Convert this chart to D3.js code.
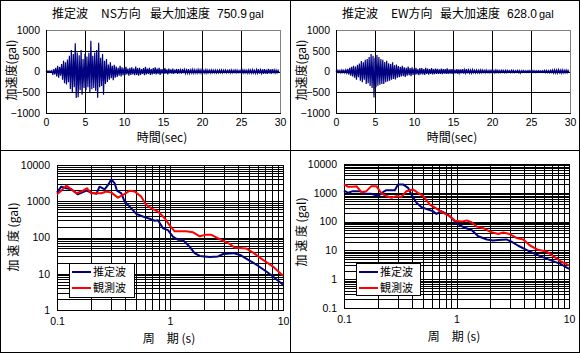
<!DOCTYPE html>
<html lang="ja">
<head>
<meta charset="UTF-8">
<title>推定波 加速度波形と応答スペクトル</title>
<script src="https://cdn.jsdelivr.net/npm/d3@7"></script>
<style>
  body { margin: 0; background: #fff; }
  svg { display: block; }
  text { font-family: "Liberation Sans", "Noto Sans CJK JP", sans-serif; fill: #000; }
  .jp { font-family: "Noto Sans CJK JP", sans-serif; }
  .tick text { font-size: 10.5px; font-family: "Liberation Sans", sans-serif; }
  .grid line { stroke: #000; stroke-width: 1; }
</style>
</head>
<body>
<svg id="chart" width="580" height="353"></svg>
<script>
// ---- waveforms: positive / negative peaks every 0.25 s (gal), 0..30 s ----
const NS_POS = [
  10, 15, 12, 20,   60, 90, 140, 110,   180, 260, 220, 290,   380, 520, 420, 680,
  460, 390, 520, 300,   420, 360, 450, 740,   380, 460, 520, 690,   330, 420, 260, 300,
  170, 220, 140, 160,   120, 90, 140, 100,   80, 110, 70, 90,   100, 70, 120, 80,
  90, 60, 80, 110,   70, 90, 60, 80,   100, 70, 90, 60,   60, 80, 50, 70,
  50, 70, 45, 60,   55, 40, 60, 45,   40, 55, 35, 50,   45, 35, 50, 40,
  40, 30, 45, 35,   35, 40, 30, 35,   30, 35, 40, 30,   35, 30, 30, 40,
  30, 35, 30, 25,   30, 40, 35, 30,   40, 35, 45, 30,   45, 55, 40, 50,
  60, 45, 65, 50,   55, 40, 35, 30
]
const NS_NEG = [
  -10, -12, -15, -80,   -70, -120, -150, -100,   -200, -280, -310, -260,   -420, -500, -380, -640,
  -620, -450, -560, -400,   -450, -380, -520, -430,   -400, -470, -630, -380,   -350, -560, -300, -250,
  -200, -160, -210, -150,   -130, -100, -120, -90,   -90, -70, -100, -80,   -70, -90, -80, -100,
  -80, -60, -90, -70,   -60, -80, -70, -60,   -70, -60, -80, -50,   -60, -50, -70, -45,
  -50, -60, -40, -55,   -45, -50, -40, -45,   -40, -45, -35, -40,   -35, -40, -30, -40,
  -30, -35, -40, -30,   -35, -30, -30, -35,   -30, -30, -35, -25,   -30, -25, -35, -30,
  -25, -30, -30, -25,   -30, -35, -30, -40,   -35, -40, -35, -45,   -40, -50, -45, -55,
  -50, -60, -45, -55,   -45, -35, -30, -25
]
const EW_POS = [
  20, 30, 25, 35,   30, 40, 60, 90,   110, 140, 120, 160,   190, 250, 220, 280,
  300, 350, 420, 380,   330, 400, 350, 300,   280, 230, 260, 200,   180, 220, 150, 170,
  130, 110, 140, 100,   90, 120, 80, 100,   70, 90, 60, 80,   80, 60, 90, 70,
  60, 80, 55, 70,   65, 50, 70, 55,   60, 75, 50, 60,   55, 45, 60, 50,
  50, 60, 45, 55,   40, 35, 45, 30,   35, 30, 40, 35,   30, 35, 25, 30,
  30, 25, 35, 30,   25, 30, 25, 30,   25, 20, 30, 25,   20, 25, 25, 20,
  25, 20, 20, 25,   20, 25, 20, 20,   20, 15, 20, 25,   25, 20, 30, 35,
  40, 35, 45, 35,   40, 30, 35, 30
]
const EW_NEG = [
  -20, -25, -30, -25,   -30, -35, -70, -100,   -120, -150, -200, -140,   -220, -260, -200, -300,
  -280, -350, -400, -628,   -380, -340, -320, -300,   -300, -260, -240, -220,   -200, -180, -190, -150,
  -140, -120, -110, -130,   -100, -90, -110, -80,   -80, -70, -90, -70,   -70, -80, -60, -75,
  -60, -70, -65, -55,   -60, -55, -65, -50,   -55, -60, -50, -55,   -50, -45, -55, -40,
  -45, -50, -40, -45,   -35, -40, -30, -35,   -30, -35, -30, -25,   -30, -25, -30, -25,
  -25, -30, -25, -30,   -25, -20, -30, -25,   -20, -25, -20, -25,   -20, -25, -40, -20,
  -20, -25, -20, -20,   -20, -20, -25, -20,   -15, -20, -20, -25,   -25, -30, -25, -35,
  -35, -40, -30, -40,   -35, -30, -30, -25
]
const WAVE_STEP = 0.25
const WAVE_X_TICKS = [0, 5, 10, 15, 20, 25, 30]
const WAVE_Y_TICKS = [-1000, -500, 0, 500, 1000]

// ---- response spectra: [period (s), acceleration (gal)] ----
const NS_EST = [
  [0.1, 1730], [0.109, 2520], [0.121, 2280], [0.134, 2140], [0.153, 1550], [0.182, 1960],
  [0.201, 1730], [0.223, 1600], [0.238, 2520], [0.264, 2140], [0.283, 2820], [0.303, 4030],
  [0.324, 3130], [0.339, 1960], [0.371, 1660], [0.397, 980], [0.44, 710], [0.503, 450],
  [0.576, 380], [0.66, 330], [0.731, 290], [0.783, 300], [0.866, 180], [0.96, 160],
  [1.06, 106], [1.18, 86], [1.3, 85], [1.49, 56], [1.65, 37], [1.83, 31], [2.25, 29],
  [2.66, 30], [2.96, 35], [3.62, 37], [4.17, 33], [4.89, 24.5], [5.82, 17.7], [7.12, 11.5],
  [8.1, 8.5], [10, 5.0]
]
const NS_OBS = [
  [0.1, 1550], [0.109, 1960], [0.121, 2700], [0.134, 2140], [0.148, 1660], [0.164, 1850],
  [0.184, 2280], [0.201, 1660], [0.223, 1660], [0.247, 1660], [0.273, 1850], [0.303, 1730],
  [0.346, 1260], [0.384, 1490], [0.44, 1960], [0.486, 1850], [0.557, 1340], [0.616, 790],
  [0.683, 640], [0.783, 520], [0.898, 340], [0.99, 220], [1.1, 148], [1.39, 148],
  [1.59, 140], [1.83, 108], [2.09, 120], [2.3, 120], [2.75, 90], [3.37, 67], [3.71, 53],
  [4.71, 50], [5.4, 39], [6.6, 24.6], [8.1, 16], [10, 8.8]
]
const EW_EST = [
  [0.1, 1200], [0.109, 1000], [0.12, 1140], [0.138, 1140], [0.153, 950], [0.175, 920],
  [0.201, 770], [0.222, 1050], [0.238, 1230], [0.283, 1230], [0.302, 1950], [0.335, 1950],
  [0.371, 1490], [0.397, 870], [0.441, 450], [0.49, 315], [0.56, 260], [0.62, 230],
  [0.664, 185], [0.73, 230], [0.84, 175], [0.933, 117], [1.04, 80], [1.19, 61], [1.37, 50],
  [1.56, 31], [1.86, 24], [2.11, 22], [2.35, 23], [2.78, 24], [3.08, 20], [3.54, 14.5],
  [4.18, 10.5], [4.97, 7.6], [5.9, 5.7], [7.0, 4.4], [8.4, 3.4], [10, 2.3]
]
const EW_OBS = [
  [0.1, 1950], [0.109, 1620], [0.12, 1620], [0.129, 1700], [0.143, 1050], [0.158, 1140],
  [0.175, 1700], [0.194, 1700], [0.215, 950], [0.238, 770], [0.264, 670], [0.292, 770],
  [0.324, 720], [0.359, 1140], [0.41, 1310], [0.455, 1000], [0.506, 770], [0.58, 390],
  [0.664, 280], [0.76, 200], [0.87, 155], [0.97, 108], [1.11, 100], [1.23, 110],
  [1.36, 95], [1.51, 67], [1.73, 59], [1.98, 45], [2.35, 37], [2.6, 42], [2.97, 37],
  [3.41, 27], [3.92, 24], [4.5, 14.8], [5.3, 10.5], [6.3, 9.2], [7.3, 6.2], [8.4, 4.2],
  [10, 3.0]
]
const SPEC_X_TICKS = [0.1, 1, 10]
const LEGEND = ['推定波', '観測波']
const TITLE_NS = ['推定波', 'NS方向', '最大加速度', '750.9', 'gal']
const TITLE_EW = ['推定波', 'EW方向', '最大加速度', '628.0', 'gal']

const NAVY = '#000080'
const RED = '#ff0000'

const svg = d3.select('#chart')

// frame and dividers
svg.append('rect')
  .attr('x', 0.5).attr('y', 0.5).attr('width', 579).attr('height', 352)
  .attr('fill', '#fff').attr('stroke', '#000')
svg.append('line').attr('x1', 290.5).attr('x2', 290.5).attr('y1', 0).attr('y2', 353).attr('stroke', '#000')
svg.append('line').attr('x1', 0).attr('x2', 580).attr('y1', 150.5).attr('y2', 150.5).attr('stroke', '#000')

function wavePoints(pos, neg) {
  const pts = []
  pos.forEach((p, i) => {
    pts.push([i * WAVE_STEP, p])
    pts.push([i * WAVE_STEP + WAVE_STEP / 2, neg[i]])
  })
  return pts
}

function drawWave(ox, title, pos, neg) {
  const left = ox + 46, right = ox + 280, top = 30, bottom = 113
  const x = d3.scaleLinear().domain([0, 30]).range([left, right])
  const y = d3.scaleLinear().domain([-1000, 1000]).range([bottom, top])

  // grid
  const grid = svg.append('g').attr('class', 'grid')
  grid.selectAll('.v').data(WAVE_X_TICKS.slice(1, -1)).enter().append('line')
    .attr('x1', d => Math.round(x(d)) + 0.5).attr('x2', d => Math.round(x(d)) + 0.5)
    .attr('y1', top).attr('y2', bottom)
  grid.selectAll('.h').data(WAVE_Y_TICKS.slice(1, -1)).enter().append('line')
    .attr('x1', left).attr('x2', right)
    .attr('y1', d => Math.round(y(d)) + 0.5).attr('y2', d => Math.round(y(d)) + 0.5)

  svg.append('rect')
    .attr('x', left + 0.5).attr('y', top + 0.5)
    .attr('width', right - left).attr('height', bottom - top)
    .attr('fill', 'none').attr('stroke', '#808080')

  // trace
  svg.append('path')
    .datum(wavePoints(pos, neg))
    .attr('fill', 'none')
    .attr('stroke', NAVY)
    .attr('stroke-width', 1.2)
    .attr('d', d3.line().x(d => x(d[0])).y(d => y(d[1])))

  // axes lines
  svg.append('line').attr('x1', left + 0.5).attr('x2', left + 0.5).attr('y1', top).attr('y2', bottom + 1).attr('stroke', '#000')
  svg.append('line').attr('x1', left).attr('x2', right + 1).attr('y1', bottom + 0.5).attr('y2', bottom + 0.5).attr('stroke', '#000')

  const xAxis = svg.append('g')
    .attr('transform', `translate(0, ${bottom})`)
    .call(d3.axisBottom(x).tickValues(WAVE_X_TICKS).tickSize(0).tickPadding(6).tickFormat(d3.format('d')))
  xAxis.select('.domain').remove()

  const yAxis = svg.append('g')
    .attr('transform', `translate(${left}, 0)`)
    .call(d3.axisLeft(y).tickValues(WAVE_Y_TICKS).tickSize(0).tickPadding(6)
      .tickFormat(d => d < 0 ? '\u2212' + Math.abs(d) : d))
  yAxis.select('.domain').remove()

  // title
  const t = svg.append('g').attr('font-size', 12)
  t.append('text').attr('class', 'jp').attr('x', ox + 52).attr('y', 18).text(title[0])
  t.append('text').attr('class', 'jp').attr('x', ox + 101).attr('y', 18).text(title[1])
  t.append('text').attr('class', 'jp').attr('x', ox + 150).attr('y', 18).text(title[2])
  t.append('text').attr('x', ox + 217).attr('y', 18).text(title[3])
  t.append('text').attr('x', ox + 249).attr('y', 18).attr('font-size', 11).text(title[4])

  svg.append('text').attr('class', 'jp')
    .attr('x', ox + 162).attr('y', 142)
    .attr('text-anchor', 'middle').attr('font-size', 12)
    .text('時間(sec)')
  svg.append('text').attr('class', 'jp')
    .attr('transform', `translate(${ox + 12}, 70) rotate(-90)`)
    .attr('text-anchor', 'middle').attr('dy', '0.35em').attr('font-size', 12)
    .text('加速度(gal)')
}

function decadeValues(lo, hi) {
  const vals = []
  for (let d = lo; d < hi * 0.999; d *= 10) {
    for (let k = 1; k <= 9; k++) vals.push(+(k * d).toPrecision(3))
  }
  vals.push(hi)
  return vals
}

function drawSpectrum(box, yMin, est, obs, legendBox) {
  const { left, right, top, bottom } = box
  const x = d3.scaleLog().domain([0.1, 10]).range([left, right])
  const y = d3.scaleLog().domain([yMin, 10000]).range([bottom, top])

  svg.append('rect')
    .attr('x', left).attr('y', top).attr('width', right - left).attr('height', bottom - top)
    .attr('fill', '#fff')

  const grid = svg.append('g').attr('class', 'grid')
  grid.selectAll('.v').data(decadeValues(0.1, 10)).enter().append('line')
    .attr('x1', d => Math.round(x(d)) + 0.5).attr('x2', d => Math.round(x(d)) + 0.5)
    .attr('y1', top).attr('y2', bottom)
  grid.selectAll('.h').data(decadeValues(yMin, 10000)).enter().append('line')
    .attr('x1', left).attr('x2', right)
    .attr('y1', d => Math.round(y(d)) + 0.5).attr('y2', d => Math.round(y(d)) + 0.5)

  svg.append('rect')
    .attr('x', left + 0.5).attr('y', top + 0.5)
    .attr('width', right - left).attr('height', bottom - top)
    .attr('fill', 'none').attr('stroke', '#000')

  const line = d3.line().x(d => x(d[0])).y(d => y(d[1]))
  svg.append('path').datum(est)
    .attr('fill', 'none').attr('stroke', NAVY).attr('stroke-width', 2)
    .attr('stroke-linejoin', 'round').attr('d', line)
  svg.append('path').datum(obs)
    .attr('fill', 'none').attr('stroke', RED).attr('stroke-width', 2)
    .attr('stroke-linejoin', 'round').attr('d', line)

  const yTicks = decadeValues(yMin, 10000).filter(v => Math.abs(Math.log10(v) % 1) < 1e-9)
  const xAxis = svg.append('g')
    .attr('transform', `translate(0, ${bottom})`)
    .call(d3.axisBottom(x).tickValues(SPEC_X_TICKS).tickSize(0).tickPadding(box.xPad).tickFormat(d => d))
  xAxis.select('.domain').remove()
  const yAxis = svg.append('g')
    .attr('transform', `translate(${left}, 0)`)
    .call(d3.axisLeft(y).tickValues(yTicks).tickSize(0).tickPadding(7).tickFormat(d => d))
  yAxis.select('.domain').remove()

  // legend
  const lg = svg.append('g')
  lg.append('rect')
    .attr('x', legendBox.x + 0.5).attr('y', legendBox.y + 0.5)
    .attr('width', legendBox.w).attr('height', legendBox.h)
    .attr('fill', '#fff').attr('stroke', '#000')
  ;[NAVY, RED].forEach((c, i) => {
    const cy = legendBox.y + 9 + i * 16
    lg.append('line')
      .attr('x1', legendBox.x + 3).attr('x2', legendBox.x + 22)
      .attr('y1', cy).attr('y2', cy)
      .attr('stroke', c).attr('stroke-width', 2)
    lg.append('text').attr('class', 'jp')
      .attr('x', legendBox.x + 24).attr('y', cy)
      .attr('dy', '0.36em').attr('font-size', 11)
      .text(LEGEND[i])
  })

  svg.append('text').attr('class', 'jp')
    .attr('x', box.xLabelX).attr('y', box.xLabelY)
    .attr('text-anchor', 'middle').attr('font-size', 12)
    .text('周\u3000期 (s)')
  svg.append('text').attr('class', 'jp')
    .attr('transform', `translate(${box.yLabelX}, ${box.yLabelY}) rotate(-90)`)
    .attr('text-anchor', 'middle').attr('dy', '0.35em').attr('font-size', 12)
    .text('加 速 度 (gal)')
}

drawWave(0, TITLE_NS, NS_POS, NS_NEG)
drawWave(290, TITLE_EW, EW_POS, EW_NEG)

drawSpectrum(
  { left: 57, right: 283, top: 165, bottom: 310, xPad: 8, xLabelX: 169, xLabelY: 343, yLabelX: 14, yLabelY: 237 },
  1, NS_EST, NS_OBS, { x: 69, y: 263, w: 65, h: 34 }
)
drawSpectrum(
  { left: 344, right: 569, top: 164, bottom: 308, xPad: 8, xLabelX: 454, xLabelY: 341, yLabelX: 302, yLabelY: 232 },
  0.1, EW_EST, EW_OBS, { x: 356, y: 263, w: 64, h: 32 }
)
</script>
</body>
</html>
